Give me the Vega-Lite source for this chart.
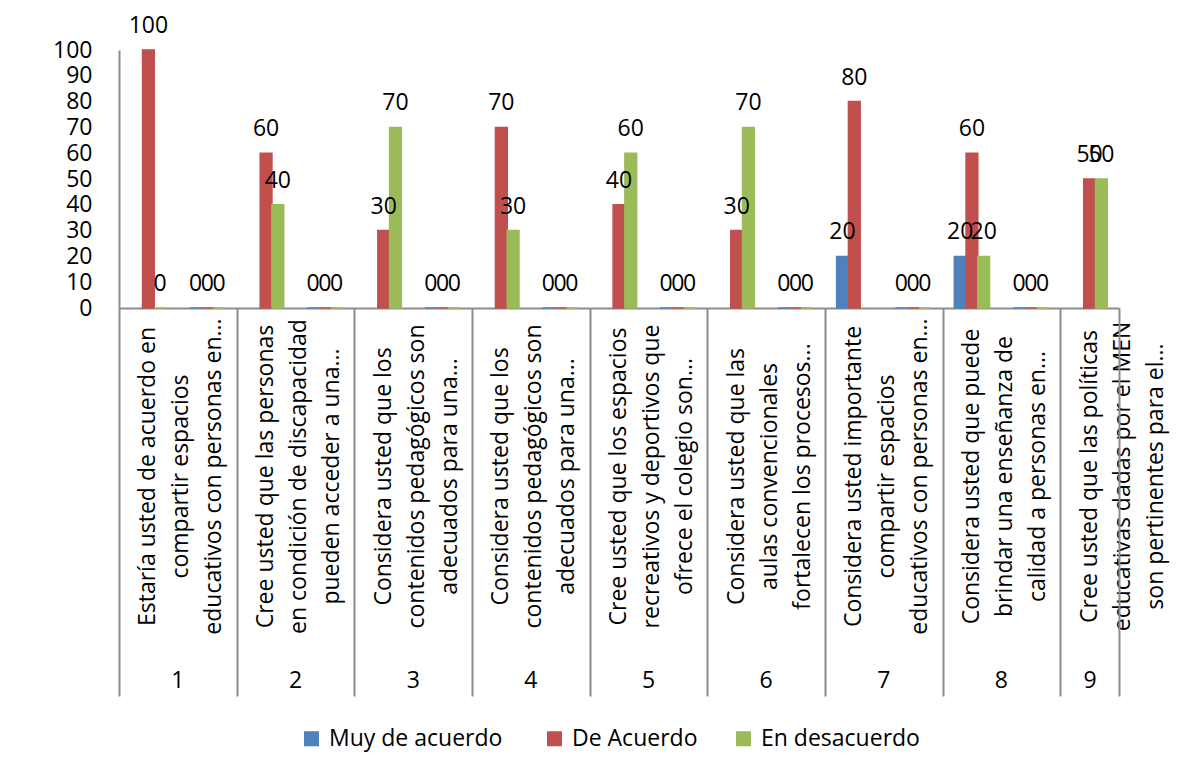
{
  "$schema": "https://vega.github.io/schema/vega-lite/v6.json",
  "autosize": {"type": "none"},
  "width": 1000,
  "height": 258,
  "padding": {"left": 119, "top": 50, "right": 61, "bottom": 467},
  "background": "white",
  "config": {"view": {"stroke": null}, "font": "Open Sans"},
  "data": {
    "values": [
      {"pregunta": "1|Estaría usted de acuerdo en|compartir espacios|educativos con personas en...", "serie": "De Acuerdo", "valor": 100},
      {"pregunta": "1|Estaría usted de acuerdo en|compartir espacios|educativos con personas en...", "serie": "En desacuerdo", "valor": 0},
      {"pregunta": "1|", "serie": "Muy de  acuerdo", "valor": 0},
      {"pregunta": "1|", "serie": "De Acuerdo", "valor": 0},
      {"pregunta": "1|", "serie": "En desacuerdo", "valor": 0},
      {"pregunta": "2|Cree usted que las personas|en condición de discapacidad|pueden acceder a una...", "serie": "De Acuerdo", "valor": 60},
      {"pregunta": "2|Cree usted que las personas|en condición de discapacidad|pueden acceder a una...", "serie": "En desacuerdo", "valor": 40},
      {"pregunta": "2|", "serie": "Muy de  acuerdo", "valor": 0},
      {"pregunta": "2|", "serie": "De Acuerdo", "valor": 0},
      {"pregunta": "2|", "serie": "En desacuerdo", "valor": 0},
      {"pregunta": "3|Considera usted que los|contenidos pedagógicos son|adecuados para una...", "serie": "De Acuerdo", "valor": 30},
      {"pregunta": "3|Considera usted que los|contenidos pedagógicos son|adecuados para una...", "serie": "En desacuerdo", "valor": 70},
      {"pregunta": "3|", "serie": "Muy de  acuerdo", "valor": 0},
      {"pregunta": "3|", "serie": "De Acuerdo", "valor": 0},
      {"pregunta": "3|", "serie": "En desacuerdo", "valor": 0},
      {"pregunta": "4|Considera usted que los|contenidos pedagógicos son|adecuados para una...", "serie": "De Acuerdo", "valor": 70},
      {"pregunta": "4|Considera usted que los|contenidos pedagógicos son|adecuados para una...", "serie": "En desacuerdo", "valor": 30},
      {"pregunta": "4|", "serie": "Muy de  acuerdo", "valor": 0},
      {"pregunta": "4|", "serie": "De Acuerdo", "valor": 0},
      {"pregunta": "4|", "serie": "En desacuerdo", "valor": 0},
      {"pregunta": "5|Cree usted que los espacios|recreativos y deportivos que|ofrece el colegio son...", "serie": "De Acuerdo", "valor": 40},
      {"pregunta": "5|Cree usted que los espacios|recreativos y deportivos que|ofrece el colegio son...", "serie": "En desacuerdo", "valor": 60},
      {"pregunta": "5|", "serie": "Muy de  acuerdo", "valor": 0},
      {"pregunta": "5|", "serie": "De Acuerdo", "valor": 0},
      {"pregunta": "5|", "serie": "En desacuerdo", "valor": 0},
      {"pregunta": "6|Considera usted que  las|aulas convencionales|fortalecen los procesos...", "serie": "De Acuerdo", "valor": 30},
      {"pregunta": "6|Considera usted que  las|aulas convencionales|fortalecen los procesos...", "serie": "En desacuerdo", "valor": 70},
      {"pregunta": "6|", "serie": "Muy de  acuerdo", "valor": 0},
      {"pregunta": "6|", "serie": "De Acuerdo", "valor": 0},
      {"pregunta": "6|", "serie": "En desacuerdo", "valor": 0},
      {"pregunta": "7|Considera usted importante|compartir espacios|educativos con personas en...", "serie": "Muy de  acuerdo", "valor": 20},
      {"pregunta": "7|Considera usted importante|compartir espacios|educativos con personas en...", "serie": "De Acuerdo", "valor": 80},
      {"pregunta": "7|", "serie": "Muy de  acuerdo", "valor": 0},
      {"pregunta": "7|", "serie": "De Acuerdo", "valor": 0},
      {"pregunta": "7|", "serie": "En desacuerdo", "valor": 0},
      {"pregunta": "8|Considera usted que puede|brindar una enseñanza de|calidad a personas en...", "serie": "Muy de  acuerdo", "valor": 20},
      {"pregunta": "8|Considera usted que puede|brindar una enseñanza de|calidad a personas en...", "serie": "De Acuerdo", "valor": 60},
      {"pregunta": "8|Considera usted que puede|brindar una enseñanza de|calidad a personas en...", "serie": "En desacuerdo", "valor": 20},
      {"pregunta": "8|", "serie": "Muy de  acuerdo", "valor": 0},
      {"pregunta": "8|", "serie": "De Acuerdo", "valor": 0},
      {"pregunta": "8|", "serie": "En desacuerdo", "valor": 0},
      {"pregunta": "9|Cree usted que las políticas|educativas dadas por el MEN|son pertinentes para el...", "serie": "De Acuerdo", "valor": 50},
      {"pregunta": "9|Cree usted que las políticas|educativas dadas por el MEN|son pertinentes para el...", "serie": "En desacuerdo", "valor": 50}
    ]
  },
  "encoding": {
    "xOffset": {"field": "serie", "type": "nominal", "sort": ["Muy de  acuerdo", "De Acuerdo", "En desacuerdo"], "scale": {"paddingInner": 0, "paddingOuter": 1.88}},
    "y": {
      "field": "valor", "type": "quantitative", "scale": {"domain": [0, 100]},
      "axis": {
        "title": null, "values": [0, 10, 20, 30, 40, 50, 60, 70, 80, 90, 100],
        "grid": false, "ticks": false, "domainColor": "#8c8c8c", "domainWidth": 2,
        "labelFontSize": 23, "labelFont": "Open Sans", "labelPadding": 27, "labelColor": "black",
        "labelOverlap": false, "labelFlush": false
      }
    }
  },
  "layer": [
    {
      "mark": {"type": "bar", "strokeWidth": 1.5},
      "encoding": {
        "x": {
          "field": "pregunta", "type": "nominal", "sort": null,
          "scale": {"paddingInner": 0, "paddingOuter": 0},
          "axis": {
            "orient": "bottom",
            "title": null, "domain": true, "domainColor": "#8c8c8c", "domainWidth": 2,
            "ticks": false, "tickSize": 0,
            "labelExpr": "slice(split(datum.value, '|'), 1)",
            "labelAngle": 270, "labelAlign": "center", "labelBaseline": "middle",
            "labelPadding": 168, "labelFontSize": 23, "labelLineHeight": 33,
            "labelFont": "Open Sans", "labelColor": "black",
            "labelLimit": 600, "labelOverlap": false, "labelBound": false
          }
        },
        "color": {
          "field": "serie", "type": "nominal",
          "scale": {"domain": ["Muy de  acuerdo", "De Acuerdo", "En desacuerdo"], "range": ["#4F81BD", "#C0504D", "#9BBB59"]},
          "legend": {
            "orient": "none", "legendX": 181, "legendY": 677, "direction": "horizontal",
            "title": null, "symbolType": "square", "symbolSize": 225, "symbolStrokeWidth": 0,
            "labelFontSize": 23, "labelFont": "Open Sans", "labelColor": "black", "labelOffset": 6,
            "columnPadding": 34, "labelLimit": 400
          }
        },
        "stroke": {
          "field": "serie", "type": "nominal",
          "scale": {"domain": ["Muy de  acuerdo", "De Acuerdo", "En desacuerdo"], "range": ["#4F81BD", "#C0504D", "#9BBB59"]},
          "legend": null
        }
      }
    },
    {
      "mark": {"type": "text", "fontSize": 23, "font": "Open Sans", "color": "black", "baseline": "alphabetic", "dy": -17},
      "encoding": {
        "x": {
          "field": "pregunta", "type": "nominal", "sort": null,
          "scale": {"paddingInner": 0, "paddingOuter": 0},
          "axis": {
            "orient": "bottom",
            "title": null, "domain": false, "tickBand": "extent",
            "tickSize": 388, "tickColor": "#8c8c8c", "tickWidth": 2,
            "tickOpacity": {"condition": {"test": "datum.extra ? true : (length(split(datum.value, '|')) == 2 || split(datum.value, '|')[0] == '9')", "value": 1}, "value": 0},
            "labelExpr": "length(split(datum.value, '|')) > 2 ? split(datum.value, '|')[0] : ''",
            "labelAngle": 0, "labelAlign": "center", "labelBaseline": "middle", "labelPadding": -16,
            "labelOffset": {"condition": {"test": "split(datum.value, '|')[0] == '9'", "value": 0}, "value": 29},
            "labelFontSize": 23, "labelFont": "Open Sans", "labelColor": "black",
            "labelOverlap": false, "labelBound": false
          }
        },
        "text": {"field": "valor", "type": "quantitative"}
      }
    }
  ],
  "resolve": {"axis": {"x": "independent"}}
}
